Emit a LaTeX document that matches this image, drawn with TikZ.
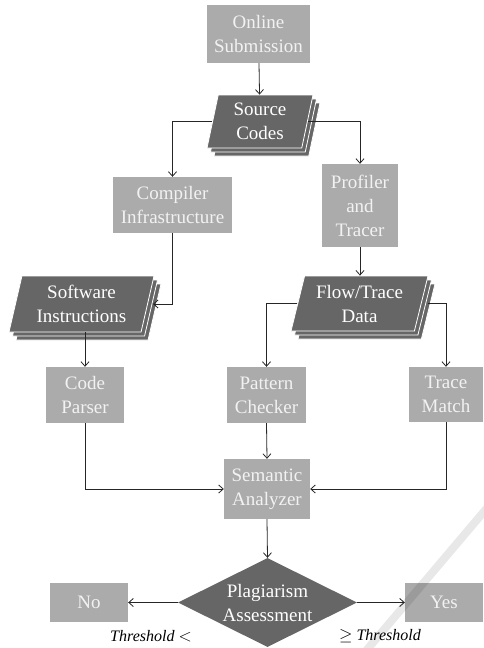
\documentclass[tikz,border=0pt]{standalone}
\usepackage{fontspec}
\setmainfont{Liberation Serif}
\usetikzlibrary{arrows.meta,shapes.geometric,shadows}
\definecolor{lbox}{HTML}{ABABAB}
\definecolor{dbox}{HTML}{666666}
\definecolor{ltext}{HTML}{F2F2F2}
\tikzset{
  nodefont/.style={font=\fontsize{19}{24}\selectfont},
  lightbox/.style={rectangle, fill=lbox, text=ltext, inner sep=0pt, align=center, nodefont},
  databox/.style={trapezium, trapezium stretches body, fill=dbox, draw=white, line width=0.8pt,
    text=white, inner sep=0pt, align=center, nodefont,
    double copy shadow={shadow xshift=3.5pt, shadow yshift=-4pt, fill=dbox, draw=white, line width=0.8pt}},
  decision/.style={diamond, fill=dbox, text=white, inner sep=0pt, align=center, nodefont, aspect=2},
  conn/.style={draw=black!85, line width=0.8pt, -{Straight Barb[length=4.5pt,width=8pt]}},
  thr/.style={font=\fontsize{16}{19}\selectfont, inner sep=0pt},
}
\begin{document}
\begin{tikzpicture}[x=1pt,y=-1pt]
\useasboundingbox (0,0) rectangle (483,648);
% nodes
\node[lightbox, minimum width=103pt, minimum height=58pt] (online) at (258.5,34) {Online\\Submission};
\node[databox, minimum width=106pt, minimum height=53pt, trapezium left angle=73, trapezium right angle=107] (src) at (260,121.5) {Source\\Codes};
\node[lightbox, minimum width=119pt, minimum height=56pt] (comp) at (172.5,205) {Compiler\\Infrastructure};
\node[lightbox, minimum width=76pt, minimum height=83pt] (prof) at (360,205.5) {Profiler\\and\\Tracer};
\node[databox, minimum width=145pt, minimum height=56pt, trapezium left angle=71, trapezium right angle=109] (sw) at (81.5,304) {Software\\Instructions};
\node[databox, minimum width=137pt, minimum height=55pt, trapezium left angle=70, trapezium right angle=110] (flow) at (359.5,303.5) {Flow/Trace\\Data};
\node[lightbox, minimum width=78pt, minimum height=56pt] (parser) at (85,395) {Code\\Parser};
\node[lightbox, minimum width=79pt, minimum height=56pt] (pat) at (266.5,395) {Pattern\\Checker};
\node[lightbox, minimum width=74pt, minimum height=55pt] (trace) at (446,394.5) {Trace\\Match};
\node[lightbox, minimum width=86pt, minimum height=60pt] (sem) at (267,489) {Semantic\\Analyzer};
\node[decision, minimum width=179pt, minimum height=89pt] (plag) at (267.5,602.5) {Plagiarism\\Assessment};
\node[lightbox, minimum width=78pt, minimum height=39pt] (no) at (89,602.5) {No};
\node[lightbox, minimum width=78pt, minimum height=39pt] (yes) at (444,602.5) {Yes};
\node[thr] (thl) at (151,636) {\textit{Threshold} $<$};
\node[thr] (thr) at (380,636) {$\geq$ \textit{Threshold}};
% connectors
\draw[conn] (online) -- (src);
\draw[conn] (src.west) -| (comp.north);
\draw[conn] (src.east) -| (prof.north);
\draw[conn] (comp.south) |- ([xshift=5pt]sw.east);
\draw[conn] (prof.south) -- (prof.south |- flow.north);
\draw[conn] (sw.south -| parser.north) -- (parser.north);
\draw[conn] (flow.west) -| (pat.north);
\draw[conn] ([xshift=6pt]flow.east) -| (trace.north);
\draw[conn] (parser.south) |- (sem.west);
\draw[conn] (pat.south) -- (sem.north);
\draw[conn] (trace.south) |- (sem.east);
\draw[conn] (sem.south) -- (plag.north);
\draw[conn] (plag.west) -- (no.east);
\draw[conn] (plag.east) -- (yes.west);
% watermark stroke
\draw[black, opacity=0.09, line width=8pt] (365,652) -- (487,508);
\end{tikzpicture}
\end{document}
